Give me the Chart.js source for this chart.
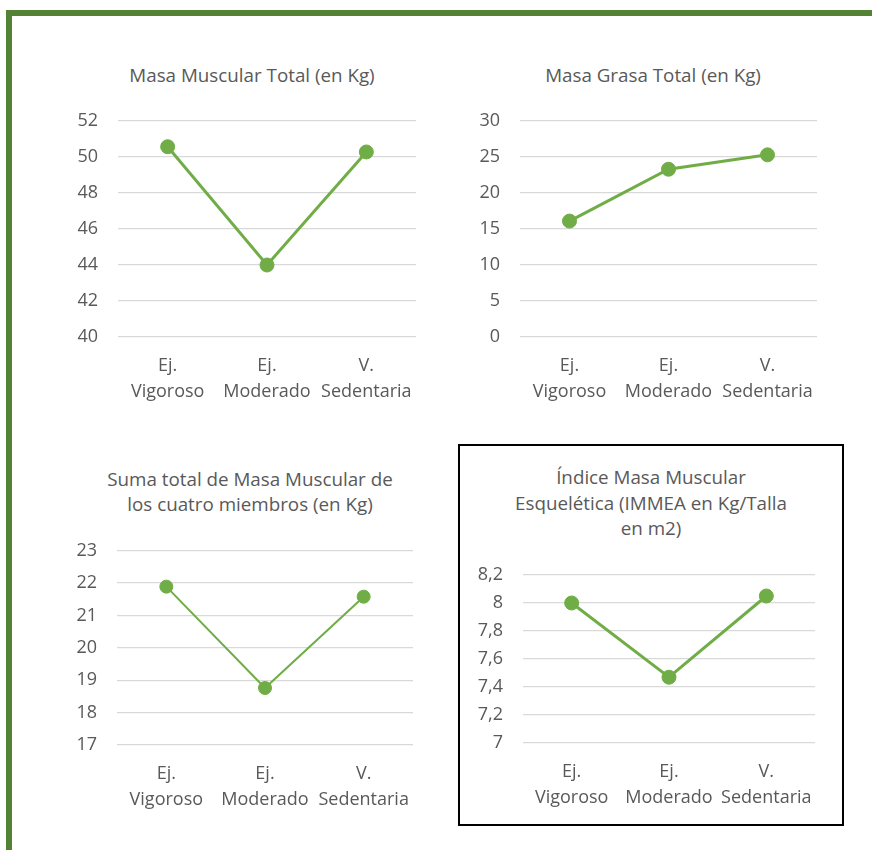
<!DOCTYPE html>
<html>
<head>
<meta charset="utf-8">
<script src="https://cdn.jsdelivr.net/npm/chart.js@4.4.1/dist/chart.umd.min.js"></script>
<style>
  body { margin: 0; background: #fff; width: 872px; height: 850px; overflow: hidden; position: relative;
         font-family: "Open Sans", sans-serif; }
  .frame { position: absolute; left: 6px; top: 10px; width: 900px; height: 900px;
           border-top: 6px solid #548235; border-left: 6px solid #548235; }
  .box { position: absolute; left: 458px; top: 444px; width: 382px; height: 378px; border: 2px solid #000; }
  .titulo { position: absolute; width: 400px; text-align: center; font-size: 18.8px; color: #595959; line-height: 25px; }
  canvas { position: absolute; }
</style>
</head>
<body>
<div class="frame"></div>
<div class="box"></div>
<div class="titulo" style="left:52px;top:63px">Masa Muscular Total (en Kg)</div>
<div class="titulo" style="left:453px;top:63px">Masa Grasa Total (en Kg)</div>
<div class="titulo" style="left:50px;top:467px">Suma total de Masa Muscular de<br>los cuatro miembros (en Kg)</div>
<div class="titulo" style="left:451px;top:465px;line-height:25.6px">Índice Masa Muscular<br>Esquelética (IMMEA en Kg/Talla<br>en m2)</div>
<canvas id="c1" width="370" height="380" style="left:60px;top:40px"></canvas>
<canvas id="c2" width="390" height="380" style="left:440px;top:40px"></canvas>
<canvas id="c3" width="370" height="390" style="left:60px;top:440px"></canvas>
<canvas id="c4" width="380" height="378" style="left:460px;top:446px"></canvas>
<script>
// datos
var categorias = [['Ej.', 'Vigoroso'], ['Ej.', 'Moderado'], ['V.', 'Sedentaria']];

var masaMuscular = [50.57, 44.0, 50.28];
var masaGrasa = [16.1, 23.3, 25.3];
var sumaMiembros = [21.89, 18.76, 21.58];
var immea = [8.0, 7.47, 8.05];

var ticksMuscular = ['40', '42', '44', '46', '48', '50', '52'];
var ticksGrasa = ['0', '5', '10', '15', '20', '25', '30'];
var ticksMiembros = ['17', '18', '19', '20', '21', '22', '23'];
var ticksImmea = ['7', '7,2', '7,4', '7,6', '7,8', '8', '8,2'];

var verde = '#70AD47';
var gris = '#595959';

Chart.defaults.font.family = '"Open Sans", sans-serif';
Chart.defaults.color = gris;

function crearGrafico(id, datos, ticks, min, max, paso, o) {
    var ctx = document.getElementById(id).getContext('2d');
    return new Chart(ctx, {
        type: 'line',
        data: {
            labels: categorias,
            datasets: [{
                data: datos,
                borderColor: verde,
                backgroundColor: verde,
                borderWidth: o.linea,
                pointRadius: o.punto,
                pointBorderWidth: 1,
                pointHoverRadius: o.punto,
                tension: 0
            }]
        },
        options: {
            responsive: false,
            animation: false,
            devicePixelRatio: 1,
            layout: { padding: { left: 0, right: o.derecha, top: o.arriba, bottom: 0 } },
            plugins: {
                legend: { display: false },
                tooltip: { enabled: false },
                title: { display: false }
            },
            scales: {
                x: {
                    offset: true,
                    grid: { display: false },
                    border: { display: false },
                    ticks: { font: { size: 18, lineHeight: 1.444 }, padding: 8, maxRotation: 0, autoSkip: false },
                    afterFit: function (axis) { axis.height = o.altoX; }
                },
                y: {
                    min: min,
                    max: max,
                    grid: { color: '#D9D9D9', lineWidth: 1.3, drawTicks: false },
                    border: { display: false },
                    ticks: {
                        stepSize: paso,
                        font: { size: 18 },
                        padding: 20,
                        callback: function (v, i) { return ticks[i]; }
                    },
                    afterFit: function (axis) { axis.width = o.anchoY; }
                }
            }
        }
    });
}

crearGrafico('c1', masaMuscular, ticksMuscular, 40, 52, 2,
    { linea: 3, punto: 7, derecha: 14, arriba: 81, anchoY: 58, altoX: 83 });

crearGrafico('c2', masaGrasa, ticksGrasa, 0, 30, 5,
    { linea: 3, punto: 7, derecha: 13, arriba: 81, anchoY: 80, altoX: 83 });

crearGrafico('c3', sumaMiembros, ticksMiembros, 17, 23, 1,
    { linea: 2, punto: 6.5, derecha: 17, arriba: 110.7, anchoY: 57, altoX: 85 });

crearGrafico('c4', immea, ticksImmea, 7, 8.2, 0.2,
    { linea: 3, punto: 7, derecha: 25, arriba: 129, anchoY: 63, altoX: 81 });
</script>
</body>
</html>
